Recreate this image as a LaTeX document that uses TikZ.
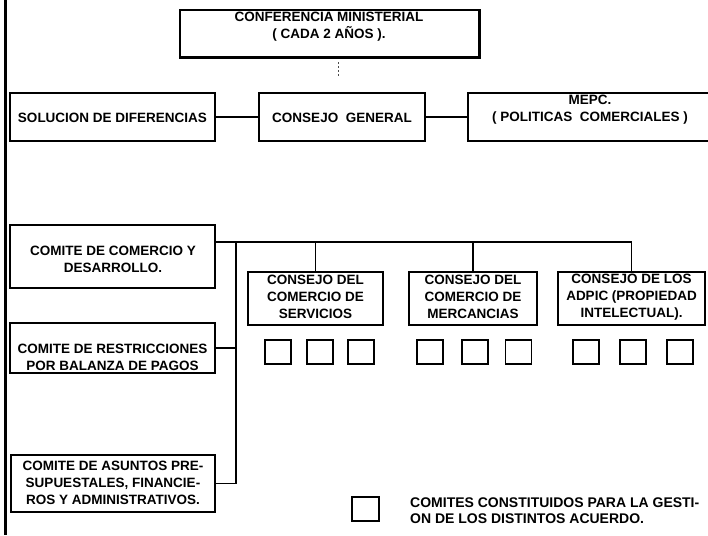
\documentclass[tikz,border=0pt]{standalone}
\usepackage{fontspec}
\setmainfont{Liberation Sans}
\begin{document}
\begin{tikzpicture}[x=1pt,y=-1pt,
  box/.style={draw, line width=1.3pt, inner sep=0pt},
  txt/.style={font=\bfseries\fontsize{13.5}{17}\selectfont, align=center, inner sep=0pt},
  sq/.style={draw, line width=1.4pt, minimum width=26pt, minimum height=24pt, inner sep=0pt},
  conn/.style={line width=1.1pt}]
\useasboundingbox[fill=white] (0,0) rectangle (708,535);
\clip (0,0) rectangle (708,535);
% left margin rule
\coordinate (ltop) at (5,0);
\coordinate (lbot) at (5,535);
\draw[line width=3pt] (ltop) -- (lbot);
% boxes
\node[box, minimum width=299pt, minimum height=47pt] (conf) at (329.5,33.5) {};
\draw[line width=2.6pt] (conf.south west) -- (conf.south east) -- (conf.north east);
\node[txt] (conft) at (329,26.5) {CONFERENCIA MINISTERIAL\\( CADA 2 AÑOS ).};
\node[box, minimum width=205pt, minimum height=48pt] (sol) at (112.5,117) {};
\node[txt] (solt) at (112.5,118) {SOLUCION DE DIFERENCIAS};
\node[box, minimum width=166pt, minimum height=48pt] (cg) at (342,117) {};
\node[txt] (cgt) at (342,118) {CONSEJO~~GENERAL};
\node[box, minimum width=246pt, minimum height=48pt] (mepc) at (591,117) {};
\node[txt] (mepct) at (590,110) {MEPC.\\( POLITICAS~~COMERCIALES )};
\node[box, minimum width=205pt, minimum height=63pt] (c1) at (112.5,256.5) {};
\node[txt] (c1t) at (113,259) {COMITE DE COMERCIO Y\\DESARROLLO.};
\node[box, minimum width=135pt, minimum height=53pt] (serv) at (315.5,298.5) {};
\node[txt] (servt) at (315.5,297) {CONSEJO DEL\\COMERCIO DE\\SERVICIOS};
\node[box, minimum width=128pt, minimum height=53pt] (merc) at (473,298.5) {};
\node[txt] (merct) at (473,297) {CONSEJO DEL\\COMERCIO DE\\MERCANCIAS};
\node[box, minimum width=147pt, minimum height=53pt] (adpic) at (631.5,298.5) {};
\node[txt] (adpict) at (631.5,297) {CONSEJO DE LOS\\ADPIC (PROPIEDAD\\INTELECTUAL).};
\node[box, minimum width=205pt, minimum height=50pt] (c2) at (112.5,348) {};
\node[txt] (c2t) at (112.5,357) {COMITE DE RESTRICCIONES\\POR BALANZA DE PAGOS};
\node[box, minimum width=204pt, minimum height=57pt] (c3) at (113,483.5) {};
\node[txt] (c3t) at (113,482.5) {COMITE DE ASUNTOS PRE-\\SUPUESTALES, FINANCIE-\\ROS Y ADMINISTRATIVOS.};
% small committee squares
\node[sq] (s1) at (278,352) {};
\node[sq] (s2) at (320,352) {};
\node[sq] (s3) at (361,352) {};
\node[sq] (s4) at (430,352) {};
\node[sq] (s5) at (475,352) {};
\node[sq] (s6) at (518.5,352) {};
\node[sq] (s7) at (586,352) {};
\node[sq] (s8) at (633,352) {};
\node[sq] (s9) at (680,352) {};
% legend
\node[sq, minimum width=27pt] (lsq) at (365.5,509) {};
\node[txt, font=\bfseries\fontsize{14}{16}\selectfont, align=left, anchor=west] (legt) at (410,511) {COMITES CONSTITUIDOS PARA LA GESTI-\\ON DE LOS DISTINTOS ACUERDO.};
% connectors
\coordinate (d1) at (338,62);
\coordinate (d2) at (338,77);
\draw[line width=0.6pt, dash pattern=on 2pt off 2pt, black!70] (d1) -- (d2);
\draw[conn] (sol.east) -- (cg.west);
\draw[conn] (cg.east) -- (mepc.west);
\coordinate (hb) at (0,242);
\coordinate (busx) at (236,0);
\draw[conn] (c1.east |- hb) -- (adpic.north |- hb);
\draw[conn] (busx |- hb) -- (busx |- c3.east) -- (c3.east);
\draw[conn] (c2.east) -- (busx |- c2.east);
\draw[conn] (serv.north |- hb) -- (serv.north);
\draw[conn] (merc.north |- hb) -- (merc.north);
\draw[conn] (adpic.north |- hb) -- (adpic.north);
\end{tikzpicture}
\end{document}
